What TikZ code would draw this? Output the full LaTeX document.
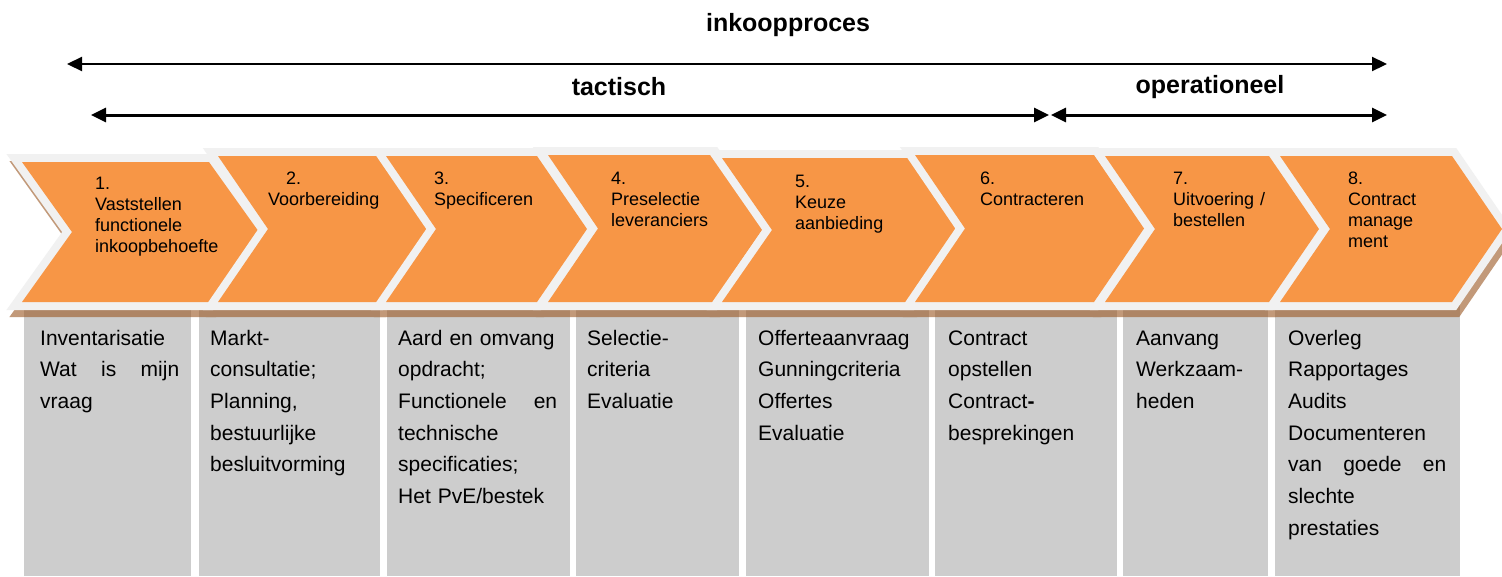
\documentclass[tikz,border=0pt]{standalone}
\usepackage{fontspec}
\setmainfont{Liberation Sans}
\usetikzlibrary{arrows.meta}
\definecolor{orng}{HTML}{F79646}
\definecolor{outl}{HTML}{F1F1F1}
\definecolor{shad}{HTML}{9A5520}
\definecolor{boxg}{HTML}{CDCDCD}
\newcommand{\chev}[4]{\path[#1] (#2,#4) -- (#3,#4) -- ({#3+50},{(#4+302)/2}) -- (#3,302) -- (#2,302) -- ({#2+50},{(#4+302)/2}) -- cycle;}
\newcommand{\onechev}[3]{\chev{draw=outl,line width=16,line join=miter}{#1}{#2}{#3}\chev{fill=orng}{#1}{#2}{#3}}
\newcommand{\spreadline}[2]{\leavevmode\hbox to #1{#2}}
\begin{document}
\begin{tikzpicture}[x=1pt,y=-1pt,
  greybox/.style={fill=boxg,draw=none,anchor=north west,inner sep=0pt,minimum height=271pt},
  boxtext/.style={anchor=base west,inner sep=0pt,align=left,font=\fontsize{21}{31.7}\selectfont},
  chevtext/.style={anchor=base west,inner sep=0pt,align=left,text width=140pt,font=\fontsize{18}{21}\selectfont},
  headtext/.style={inner sep=0pt,font=\fontsize{25}{30}\selectfont\bfseries},
  span/.style={{Triangle[length=15pt,width=14pt]}-{Triangle[length=15pt,width=14pt]}}]
\useasboundingbox (0,0) rectangle (1502,576);
\fill[white] (0,0) rectangle (1502,576);
% headers and span arrows
\node[headtext] (hin) at (788,25) {inkoopproces};
\node[headtext] (hta) at (619,87) {tactisch};
\node[headtext] (hop) at (1210,87) {operationeel};
\coordinate (a1l) at (67,64);
\coordinate (a1r) at (1387,64);
\coordinate (a2l) at (91,115);
\coordinate (a2r) at (1049,115);
\coordinate (a3l) at (1051,115);
\coordinate (a3r) at (1387,115);
\draw[span,line width=2.2] (a1l) -- (a1r);
\draw[span,line width=3] (a2l) -- (a2r);
\draw[span,line width=3] (a3l) -- (a3r);
% grey boxes
\node[greybox,minimum width=167pt] (b1) at (24,305) {};
\node[greybox,minimum width=181pt] (b2) at (199,305) {};
\node[greybox,minimum width=183pt] (b3) at (387,305) {};
\node[greybox,minimum width=163pt] (b4) at (576,305) {};
\node[greybox,minimum width=183pt] (b5) at (746,305) {};
\node[greybox,minimum width=182pt] (b6) at (935,305) {};
\node[greybox,minimum width=145pt] (b7) at (1123,305) {};
\node[greybox,minimum width=185pt] (b8) at (1275,305) {};
% shadows
\begin{scope}[transparency group,opacity=0.6,shift={(3,7)}]
\chev{fill=shad,draw=shad,line width=16,line join=miter}{22}{209}{162}
\chev{fill=shad,draw=shad,line width=16,line join=miter}{218}{379}{156}
\chev{fill=shad,draw=shad,line width=16,line join=miter}{386}{537}{156}
\chev{fill=shad,draw=shad,line width=16,line join=miter}{548}{713}{155}
\chev{fill=shad,draw=shad,line width=16,line join=miter}{722}{910}{158}
\chev{fill=shad,draw=shad,line width=16,line join=miter}{915}{1094}{155}
\chev{fill=shad,draw=shad,line width=16,line join=miter}{1105}{1269}{156}
\chev{fill=shad,draw=shad,line width=16,line join=miter}{1280}{1452}{156}
\end{scope}
% chevrons
\onechev{22}{209}{162}
\onechev{218}{379}{156}
\onechev{386}{537}{156}
\onechev{548}{713}{155}
\onechev{722}{910}{158}
\onechev{915}{1094}{155}
\onechev{1105}{1269}{156}
\onechev{1280}{1452}{156}
% chevron texts
\node[chevtext] (c1) at (95,189.5) {1.\\Vaststellen\\functionele\\inkoopbehoefte};
\node[chevtext] (c2) at (268,184.5) {\hspace*{18pt}2.\\Voorbereiding};
\node[chevtext] (c3) at (434,184.5) {3.\\Specificeren};
\node[chevtext] (c4) at (611,184) {4.\\Preselectie\\leveranciers};
\node[chevtext] (c5) at (795,187) {5.\\Keuze\\aanbieding};
\node[chevtext] (c6) at (980,184) {6.\\Contracteren};
\node[chevtext] (c7) at (1173,184.5) {7.\\Uitvoering /\\bestellen};
\node[chevtext] (c8) at (1348,184.5) {8.\\Contract\\manage\\ment};
% box texts
\node[boxtext,text width=139pt] (t1) at (40,345) {Inventarisatie\\\spreadline{139pt}{Wat\hfill is\hfill mijn}\\vraag};
\node[boxtext,text width=160pt] (t2) at (210,345) {Markt-\\consultatie;\\Planning,\\bestuurlijke\\besluitvorming};
\node[boxtext,text width=159pt] (t3) at (398,345) {Aard en omvang\\opdracht;\\\spreadline{159pt}{Functionele\hfill en}\\technische\\specificaties;\\Het PvE/bestek};
\node[boxtext,text width=145pt] (t4) at (587,345) {Selectie-\\criteria\\Evaluatie};
\node[boxtext,text width=165pt] (t5) at (758,345) {Offerteaanvraag\\Gunningcriteria\\Offertes\\Evaluatie};
\node[boxtext,text width=165pt] (t6) at (948,345) {Contract\\opstellen\\Contract\textbf{-}\\besprekingen};
\node[boxtext,text width=125pt] (t7) at (1136,345) {Aanvang\\Werkzaam-\\heden};
\node[boxtext,text width=158pt] (t8) at (1288,345) {Overleg\\Rapportages\\Audits\\Documenteren\\\spreadline{158pt}{van\hfill goede\hfill en}\\slechte\\prestaties};
\end{tikzpicture}
\end{document}
